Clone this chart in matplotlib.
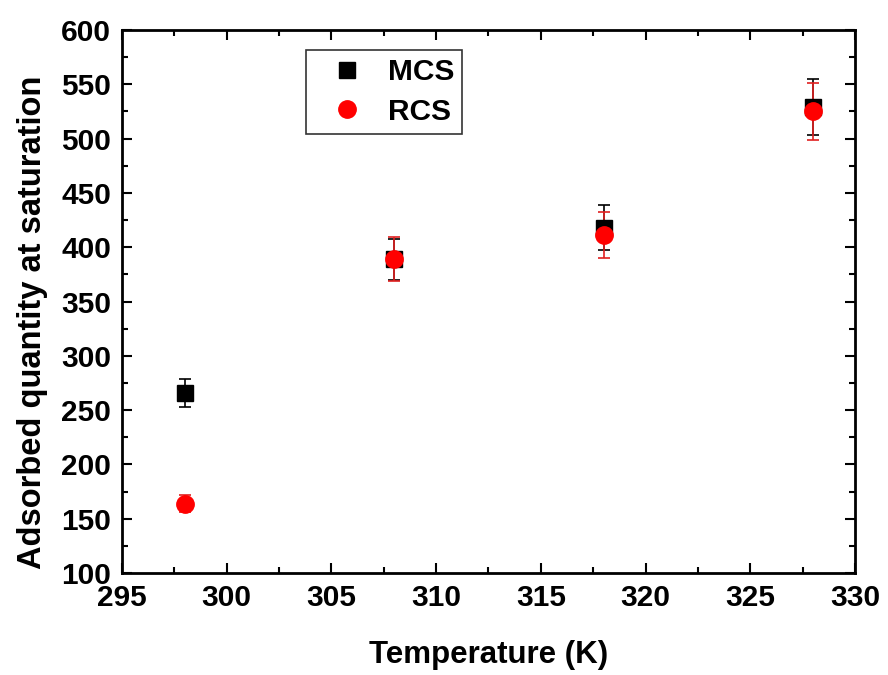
import matplotlib
matplotlib.use('Agg')
import matplotlib.pyplot as plt
from matplotlib.ticker import MultipleLocator

plt.rcParams['font.family'] = ['Liberation Sans', 'DejaVu Sans']
plt.rcParams['font.weight'] = 'bold'

# Saturation uptake vs temperature
temperature = [298, 308, 318, 328]
mcs = [266, 389, 418, 529]
mcs_err = [13, 19, 21, 26]
rcs = [164, 389, 411, 525]
rcs_err = [8, 20, 21, 26]

fig = plt.figure(figsize=(8.88, 6.75), dpi=100)
ax = fig.add_axes([0.1374, 0.151, 0.8254, 0.8046])

ax.errorbar(temperature, mcs, yerr=mcs_err, fmt='s', color='black', ecolor='black',
            markersize=11, capsize=4, elinewidth=1.2, capthick=1.2, label='MCS')
ax.errorbar(temperature, rcs, yerr=rcs_err, fmt='o', color='red', ecolor='#e02020',
            markersize=12.5, capsize=4, elinewidth=1.2, capthick=1.2, label='RCS')

ax.set_xlim(295, 330)
ax.set_ylim(100, 600)
ax.xaxis.set_major_locator(MultipleLocator(5))
ax.xaxis.set_minor_locator(MultipleLocator(2.5))
ax.yaxis.set_major_locator(MultipleLocator(50))
ax.yaxis.set_minor_locator(MultipleLocator(25))
ax.tick_params(which='both', direction='in', top=True, right=True, width=1.5)
ax.tick_params(which='major', length=7, labelsize=21.5, pad=8)
ax.tick_params(which='minor', length=4)
for side in ax.spines.values():
    side.set_linewidth(2)

ax.set_xlabel('Temperature (K)', fontsize=22.5, fontweight='bold', labelpad=20)
ax.set_ylabel('Adsorbed quantity at saturation', fontsize=23.5, fontweight='bold', labelpad=9)
ax.yaxis.label.set_y(0.462)

handles, labels = ax.get_legend_handles_labels()
handles = [h[0] for h in handles]
leg = ax.legend(handles, labels, loc='upper left', bbox_to_anchor=(0.251, 0.963),
                borderaxespad=0, fontsize=21.5, frameon=True, fancybox=False,
                edgecolor='black', handletextpad=0.25, borderpad=0.28,
                labelspacing=0.38, handlelength=2.2)
leg.get_frame().set_linewidth(1.2)

fig.savefig('out.png', dpi=100)
